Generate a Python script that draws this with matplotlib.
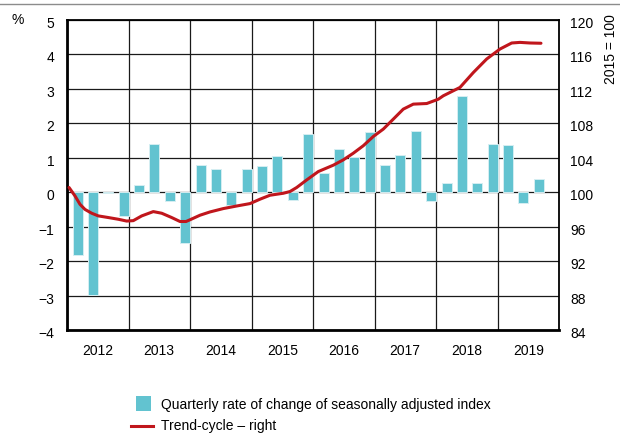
import matplotlib
matplotlib.use("Agg")
import matplotlib.pyplot as plt
from matplotlib.patches import Rectangle
from matplotlib.lines import Line2D
from matplotlib.transforms import ScaledTranslation
import numpy as np

plt.rcParams['font.family'] = ['Liberation Sans Narrow', 'Liberation Sans', 'DejaVu Sans']

years = [2012, 2013, 2014, 2015, 2016, 2017, 2018, 2019]
year_labels = [str(y) for y in years]

# Quarterly rate of change (%), 2012Q1 .. 2019Q3
quarterly = [-1.82, -2.97, -0.03, -0.68,
             0.20, 1.40, -0.25, -1.48,
             0.80, 0.66, -0.37, 0.68,
             0.76, 1.05, -0.24, 1.69,
             0.56, 1.25, 1.01, 1.75,
             0.80, 1.09, 1.77, -0.25,
             0.26, 2.80, 0.27, 1.41,
             1.38, -0.30, 0.39]

# Trend-cycle (2015 = 100), decimal-year positions
trend_t = [2012.033, 2012.130, 2012.211, 2012.293, 2012.402, 2012.509, 2012.672, 2012.834,
           2012.971, 2013.078, 2013.215, 2013.403, 2013.540, 2013.702, 2013.837, 2013.935,
           2014.000, 2014.163, 2014.325, 2014.541, 2014.759, 2014.976, 2015.138, 2015.301,
           2015.517, 2015.626, 2015.735, 2015.898, 2016.086, 2016.330, 2016.493, 2016.655,
           2016.818, 2016.980, 2017.143, 2017.306, 2017.468, 2017.631, 2017.849, 2018.037,
           2018.119, 2018.390, 2018.607, 2018.824, 2019.041, 2019.231, 2019.366, 2019.528,
           2019.707]
trend_v = [100.55, 99.57, 98.6, 98.0, 97.56, 97.25, 97.06, 96.86,
           96.65, 96.7, 97.25, 97.75, 97.56, 97.06, 96.6, 96.6,
           96.8, 97.33, 97.71, 98.1, 98.4, 98.68, 99.19, 99.65,
           99.88, 100.08, 100.55, 101.43, 102.4, 103.14, 103.76, 104.53,
           105.4, 106.47, 107.33, 108.49, 109.65, 110.23, 110.3, 110.8,
           111.2, 112.17, 113.9, 115.47, 116.63, 117.33, 117.4, 117.33,
           117.3]

bar_color = '#62c3d0'
line_color = '#c0161c'

fig = plt.figure(figsize=(6.2, 4.35), dpi=100)
ax = fig.add_axes([67/620, 1-331/435, (559-67)/620, (331-21)/435])

xq = years[0] + (np.arange(len(quarterly)) + 0.69) / 4
ax.bar(xq, quarterly, width=0.65/4, color=bar_color, edgecolor='#d5eef2', linewidth=0.7, zorder=3)

ax.set_xlim(years[0], years[-1] + 1)
ax.set_ylim(-4, 5)
ax.set_yticks(range(-4, 6))
ax.set_yticklabels([str(v).replace('-', '\u2212') for v in range(-4, 6)], fontsize=10)
ax.set_xticks(years)
ax.set_xticklabels([])
for y, lab in zip(years, year_labels):
    ax.text(y + 0.5, -4.58, lab, ha='center', va='center', fontsize=10)
ax.tick_params(axis='both', length=0)
ax.tick_params(axis='y', pad=9)
ax.grid(True, color='#1a1a1a', linewidth=0.9, zorder=1)
ax.set_axisbelow(True)
for s in ['top', 'right']:
    ax.spines[s].set_linewidth(1.3)
for s in ['left', 'bottom']:
    ax.spines[s].set_linewidth(2.0)

ax2 = ax.twinx()
ax2.plot(trend_t, trend_v, color=line_color, linewidth=2.2, zorder=4,
         solid_joinstyle='round', solid_capstyle='round')
ax2.set_ylim(84, 120)
ax2.set_yticks(range(84, 121, 4))
ax2.set_yticklabels([str(v) for v in range(84, 121, 4)], fontsize=10)
ax2.tick_params(axis='y', length=0, pad=8)
for s in ax2.spines.values():
    s.set_visible(False)

off = ScaledTranslation(0, -3/100, fig.dpi_scale_trans)
for t in ax.get_yticklabels() + ax2.get_yticklabels():
    t.set_va('center')
    t.set_transform(t.get_transform() + off)

fig.text(12/620, 1-20/435, '%', fontsize=10, ha='left', va='center')
fig.text(611/620, 1-49/435, '2015 = 100', fontsize=10, rotation=90, ha='center', va='center')
fig.add_artist(Line2D([0, 1], [1-5/435, 1-5/435], color='#8c8c8c', linewidth=1.0))

# legend
fig.add_artist(Rectangle((136/620, 1-412/435), 15/620, 15/435, facecolor=bar_color, edgecolor='none'))
fig.text(161/620, 1-405/435, 'Quarterly rate of change of seasonally adjusted index', fontsize=10, ha='left', va='center')
fig.add_artist(Line2D([131/620, 153/620], [1-427/435, 1-427/435], color=line_color, linewidth=2.2))
fig.text(161/620, 1-426/435, 'Trend-cycle \u2013 right', fontsize=10, ha='left', va='center')

fig.savefig('out.png', dpi=100)
